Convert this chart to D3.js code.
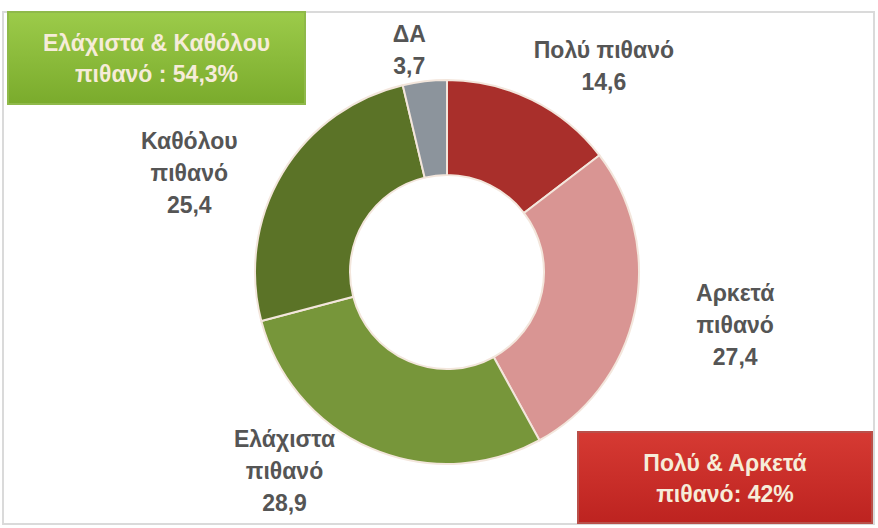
<!DOCTYPE html>
<html>
<head>
<meta charset="utf-8">
<script src="https://cdn.jsdelivr.net/npm/d3@7"></script>
<style>
  body { margin: 0; background: #fff; }
  svg { display: block; }
</style>
</head>
<body>
<svg id="chart" width="878" height="528"></svg>
<script>
// data
var categories = ["Πολύ πιθανό", "Αρκετά πιθανό", "Ελάχιστα πιθανό", "Καθόλου πιθανό", "ΔΑ"];
var labelLines = [["Πολύ πιθανό"], ["Αρκετά", "πιθανό"], ["Ελάχιστα", "πιθανό"], ["Καθόλου", "πιθανό"], ["ΔΑ"]];
var values = [14.6, 27.4, 28.9, 25.4, 3.7];
var colors = ["#a92f2b", "#d99593", "#77963a", "#5b7327", "#8c949c"];
var boxTexts = [["Ελάχιστα & Καθόλου", "πιθανό : 54,3%"], ["Πολύ & Αρκετά", "πιθανό: 42%"]];

var svg = d3.select("#chart");
var W = 878, H = 528;
var cx = 447, cy = 272, rOuter = 192, rInner = 97;
var font = "Liberation Sans, Arial, sans-serif";

// frame
svg.append("rect").attr("x", 3).attr("y", 12).attr("width", W - 7).attr("height", H - 16)
    .attr("fill", "none").attr("stroke", "#dadada").attr("stroke-width", 2);

var fmt = function (v) { return String(v).replace(".", ","); };

var pie = d3.pie().sort(null).value(function (d) { return d; });
var arcs = pie(values);
var arc = d3.arc().innerRadius(rInner).outerRadius(rOuter);

var g = svg.append("g").attr("transform", "translate(" + cx + "," + cy + ")");
g.selectAll("path.slice")
    .data(arcs)
    .enter()
    .append("path")
    .attr("class", "slice")
    .attr("d", arc)
    .attr("fill", function (d, i) { return colors[i]; })
    .attr("stroke", "#f3e6dc")
    .attr("stroke-width", 2);

// label placement: angle nudge (deg) and radius from centre
var labelNudge = [[11, 259], [-1.5, 293], [16, 257], [-10, 276], [-3, 225]];
var lineH = 32;
g.selectAll("text.lbl")
    .data(arcs)
    .enter()
    .append("text")
    .attr("class", "lbl")
    .attr("text-anchor", "middle")
    .attr("font-family", font)
    .attr("font-size", 23)
    .attr("font-weight", "bold")
    .attr("fill", "#555")
    .each(function (d, i) {
        var a = (d.startAngle + d.endAngle) / 2 + labelNudge[i][0] * Math.PI / 180;
        var r = labelNudge[i][1];
        var x = r * Math.sin(a), y = -r * Math.cos(a);
        var lines = labelLines[i].concat([fmt(values[i])]);
        var y0 = y - (lines.length - 1) * lineH / 2 + 8;
        var t = d3.select(this);
        lines.forEach(function (s, k) {
            t.append("tspan").attr("x", x).attr("y", y0 + k * lineH).text(s);
        });
    });

// summary boxes
var defs = svg.append("defs");
var gGreen = defs.append("linearGradient").attr("id", "gGreen").attr("x1", 0).attr("y1", 0).attr("x2", 0).attr("y2", 1);
gGreen.append("stop").attr("offset", "0%").attr("stop-color", "#9ccb4a");
gGreen.append("stop").attr("offset", "100%").attr("stop-color", "#7aab2c");
var gRed = defs.append("linearGradient").attr("id", "gRed").attr("x1", 0).attr("y1", 0).attr("x2", 0).attr("y2", 1);
gRed.append("stop").attr("offset", "0%").attr("stop-color", "#d63a33");
gRed.append("stop").attr("offset", "100%").attr("stop-color", "#bd2320");

var boxes = [
    { x: 8, y: 12, w: 297, h: 92, fill: "url(#gGreen)", stroke: "#8fb94a" },
    { x: 578, y: 432, w: 294, h: 91, fill: "url(#gRed)", stroke: "#b9504a" }
];
boxes.forEach(function (b, i) {
    svg.append("rect").attr("x", b.x).attr("y", b.y).attr("width", b.w).attr("height", b.h)
        .attr("fill", b.fill).attr("stroke", b.stroke).attr("stroke-width", 2);
    var t = svg.append("text").attr("text-anchor", "middle")
        .attr("font-family", font)
        .attr("font-size", 23).attr("font-weight", "bold").attr("fill", "#f6ecd9");
    boxTexts[i].forEach(function (s, k) {
        t.append("tspan").attr("x", b.x + b.w / 2).attr("y", b.y + b.h / 2 - 7 + k * 31).text(s);
    });
});
</script>
</body>
</html>
